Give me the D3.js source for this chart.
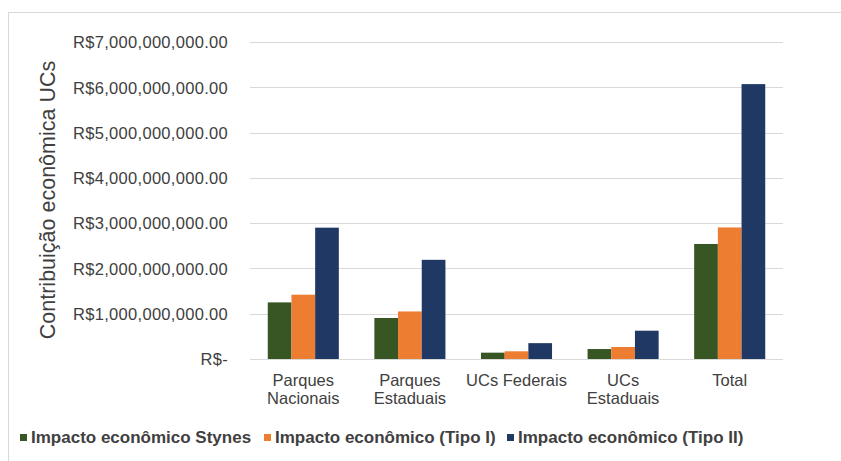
<!DOCTYPE html>
<html>
<head>
<meta charset="utf-8">
<script src="https://cdn.jsdelivr.net/npm/d3@7"></script>
<style>
  body { margin: 0; background: #fff; }
  text { font-family: "Liberation Sans", Arial, sans-serif; fill: #404040; }
</style>
</head>
<body>
<div class="chart"></div>
<script>
var svgWidth = 841;
var svgHeight = 461;

// data (values in reais)
var categories = [['Parques', 'Nacionais'], ['Parques', 'Estaduais'], ['UCs Federais'], ['UCs', 'Estaduais'], ['Total']];
var seriesNames = ['Impacto econômico Stynes', 'Impacto econômico (Tipo I)', 'Impacto econômico (Tipo II)'];
var stynes = [1.25e9, 0.905e9, 0.14e9, 0.22e9, 2.54e9];
var tipoI = [1.42e9, 1.05e9, 0.17e9, 0.265e9, 2.905e9];
var tipoII = [2.90e9, 2.19e9, 0.35e9, 0.625e9, 6.07e9];
var yTicks = [0, 1e9, 2e9, 3e9, 4e9, 5e9, 6e9, 7e9];
var colors = ['#375623', '#ed7d31', '#203864'];

var seriesValues = [stynes, tipoI, tipoII];
var catKeys = categories.map(function(c) { return c.join(' '); });

var margin = {top: 42, left: 250, right: 58, bottom: 102};
var width = svgWidth - margin.left - margin.right;
var height = svgHeight - margin.top - margin.bottom;

var svg = d3.select('.chart')
  .append('svg')
  .attr('width', svgWidth)
  .attr('height', svgHeight);

// outer frame
svg.append('rect')
  .attr('x', 8.5).attr('y', 12.5)
  .attr('width', 900).attr('height', 600)
  .attr('fill', 'none')
  .attr('stroke', '#d9d9d9');

var chart = svg.append('g')
  .attr('transform', 'translate(' + margin.left + ',' + margin.top + ')');

var xScale = d3.scaleBand()
  .domain(catKeys)
  .range([0, width])
  .paddingInner(1 / 3)
  .paddingOuter(1 / 6);

var xSub = d3.scaleBand()
  .domain(d3.range(seriesNames.length))
  .range([0, xScale.bandwidth()]);

var yScale = d3.scaleLinear().domain([0, 7e9]).range([height, 0]);

var fmt = function(v) {
  if (v === 0) return 'R$-';
  return 'R$' + d3.format(',.2f')(v);
};

// gridlines
chart.append('g')
  .selectAll('line')
  .data(yTicks)
  .enter()
  .append('line')
  .attr('x1', 0)
  .attr('x2', width)
  .attr('y1', function(d) { return Math.round(yScale(d)) + 0.5; })
  .attr('y2', function(d) { return Math.round(yScale(d)) + 0.5; })
  .attr('stroke', '#d9d9d9')
  .attr('stroke-width', 1);

// y axis labels
var leftAxis = d3.axisLeft(yScale).tickValues(yTicks).tickFormat(fmt).tickSize(0).tickPadding(22);
var yAxisG = chart.append('g').call(leftAxis);
yAxisG.select('.domain').remove();
yAxisG.selectAll('text')
  .attr('font-size', 16.5)
  .attr('letter-spacing', 0.3)
  .attr('font-family', '"Liberation Sans", Arial, sans-serif')
  .attr('fill', '#404040')
  .attr('dy', '0.35em');

// bars
var groups = chart.selectAll('.grp')
  .data(catKeys)
  .enter()
  .append('g')
  .attr('class', 'grp')
  .attr('transform', function(d) { return 'translate(' + xScale(d) + ',0)'; });

groups.selectAll('rect')
  .data(function(d, i) {
    return seriesValues.map(function(s, j) { return {s: j, v: s[i]}; });
  })
  .enter()
  .append('rect')
  .attr('x', function(d) { return xSub(d.s); })
  .attr('width', xSub.bandwidth())
  .attr('y', function(d) { return yScale(d.v); })
  .attr('height', function(d) { return height - yScale(d.v); })
  .attr('fill', function(d) { return colors[d.s]; });

// x labels
var xLabels = chart.append('g')
  .selectAll('text')
  .data(categories)
  .enter()
  .append('text')
  .attr('text-anchor', 'middle')
  .attr('font-size', 16.5)
  .attr('x', function(d, i) { return xScale(catKeys[i]) + xScale.bandwidth() / 2; })
  .attr('y', height + 27);

xLabels.selectAll('tspan')
  .data(function(d) { return d; })
  .enter()
  .append('tspan')
  .attr('x', function() { return d3.select(this.parentNode).attr('x'); })
  .attr('dy', function(d, i) { return i === 0 ? 0 : 17.5; })
  .text(function(d) { return d; });

// y title
svg.append('text')
  .attr('transform', 'translate(55,200) rotate(-90)')
  .attr('text-anchor', 'middle')
  .attr('font-size', 21.5)
  .text('Contribuição econômica UCs');

// legend
var legendX = [20, 264, 507];
var legend = svg.append('g')
  .selectAll('g')
  .data(seriesNames)
  .enter()
  .append('g')
  .attr('transform', function(d, i) { return 'translate(' + legendX[i] + ',434)'; });

legend.append('rect')
  .attr('width', 7)
  .attr('height', 7)
  .attr('fill', function(d, i) { return colors[i]; });

legend.append('text')
  .attr('x', 11)
  .attr('y', 9)
  .attr('font-size', 17)
  .attr('font-weight', 'bold')
  .attr('fill', '#262626')
  .text(function(d) { return d; });
</script>
</body>
</html>
